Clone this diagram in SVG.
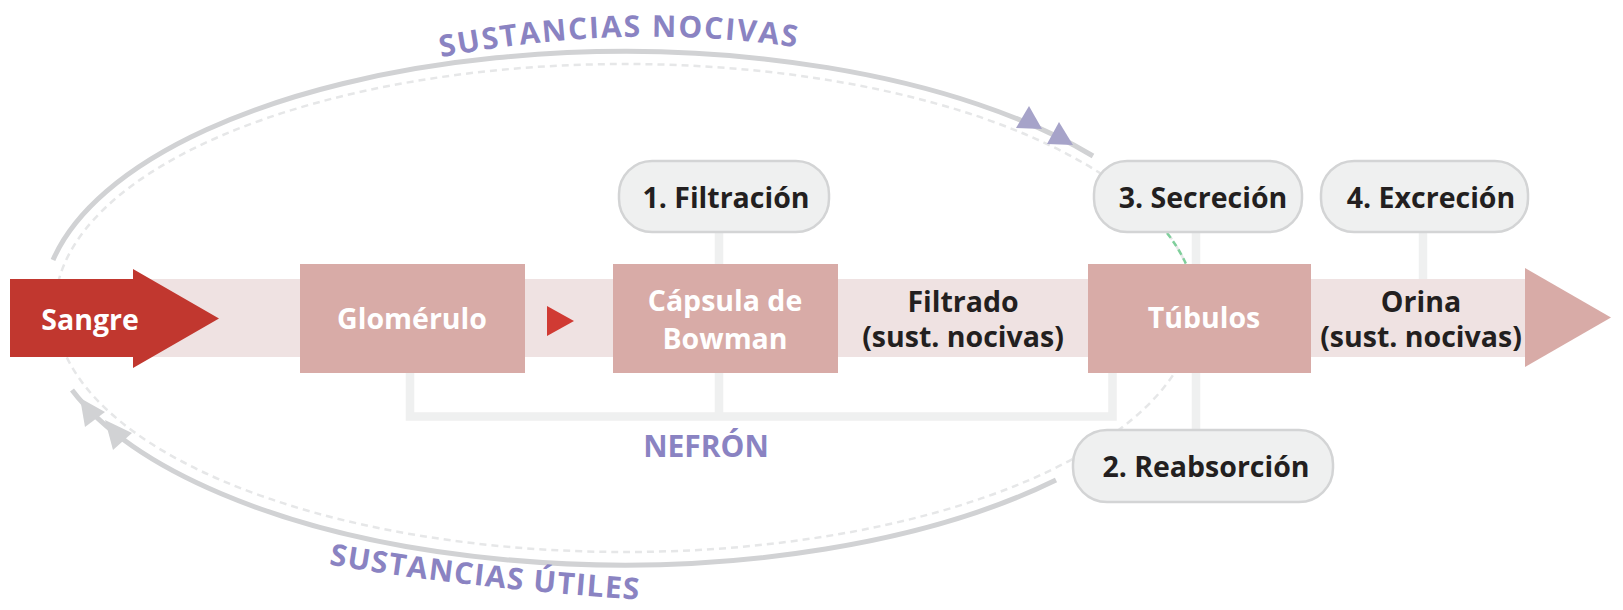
<svg xmlns="http://www.w3.org/2000/svg" width="1623" height="610" viewBox="0 0 1623 610">
<style>
.bg{fill:#ffffff}
.box{fill:#d8aba7}
.lbl{fill:#eff0f0;stroke:#d3d4d5;stroke-width:2.5}
.t{font-family:"Open Sans","Liberation Sans",sans-serif;font-weight:700;font-size:28.5px;text-anchor:middle}
.w{fill:#ffffff}
.k{fill:#231f20}
.p{fill:#8a83c2}
.conn{fill:none;stroke:#eff0f0;stroke-width:8.5}
.arc{fill:none;stroke:#d1d2d4;stroke-width:5}
.dash{fill:none;stroke:#e6e7e8;stroke-width:2.5;stroke-dasharray:7 5}
.green{fill:none;stroke:#7fcf9b;stroke-width:2.5;stroke-dasharray:6 4}
.arcT{font-family:"Open Sans","Liberation Sans",sans-serif;font-weight:700;font-size:30px;fill:#8a83c2}
</style>
<defs>
<path id="tp1" d="M 438,58 Q 620,22 795,47"/>
<path id="tp2" d="M 326,564 Q 470,589 660,601"/>
</defs>
<rect class="bg" x="0" y="0" width="1623" height="610"/>

<g id="connectors">
<ellipse class="dash" cx="625" cy="308" rx="570" ry="244"/>
<path class="green" d="M 1167,233 A 570 244 0 0 1 1186,264"/>
<path class="arc" d="M 53,260 A 582 257 0 0 1 1093,156"/>
<path class="arc" d="M 1056,480 A 582 257 0 0 1 72,390"/>
<polygon fill="#a6a3c9" points="1029,106 1042,129 1016,128"/>
<polygon fill="#a6a3c9" points="1059,122 1073,145 1047,144"/>
<polygon fill="#d1d2d4" points="80,398 105,412 85,427"/>
<polygon fill="#d1d2d4" points="105,420 132,433 113,450"/>
<line class="conn" x1="719" y1="232" x2="719" y2="416"/>
<line class="conn" x1="1196" y1="232" x2="1196" y2="430"/>
<line class="conn" x1="1423" y1="232" x2="1423" y2="279"/>
<path class="conn" d="M 410,373 V 416.5 H 1112.5 V 373"/>
</g>

<g id="band">
<rect x="133" y="279" width="1394" height="78" fill="#efe2e2"/>
<polygon class="box" points="1525,268 1611,317.5 1525,367"/>
<polygon fill="#d03a33" points="547,306 574,321 547,336"/>
</g>

<g id="sangre">
<polygon fill="#c1372f" points="10,279 133,279 133,269 219,318.5 133,368 133,357 10,357"/>
<text class="t w" x="90" y="330">Sangre</text>
</g>

<g id="glomerulo">
<rect class="box" x="300" y="264" width="225" height="109"/>
<text class="t w" x="412" y="329">Glomérulo</text>
</g>

<g id="capsula">
<rect class="box" x="613" y="264" width="225" height="109"/>
<text class="t w" x="725" y="311">Cápsula de</text>
<text class="t w" x="725" y="349">Bowman</text>
</g>

<g id="filtrado">
<text class="t k" x="963" y="312">Filtrado</text>
<text class="t k" x="963" y="347">(sust. nocivas)</text>
</g>

<g id="tubulos">
<rect class="box" x="1088" y="264" width="223" height="109"/>
<text class="t w" x="1204" y="328">Túbulos</text>
</g>

<g id="orina">
<text class="t k" x="1421" y="312">Orina</text>
<text class="t k" x="1421" y="347">(sust. nocivas)</text>
</g>

<g id="filtracion">
<rect class="lbl" x="619" y="161" width="210" height="71" rx="33"/>
<text class="t k" x="726" y="208">1. Filtración</text>
</g>

<g id="secrecion">
<rect class="lbl" x="1094" y="161" width="208" height="71" rx="33"/>
<text class="t k" x="1203" y="208">3. Secreción</text>
</g>

<g id="excrecion">
<rect class="lbl" x="1321" y="161" width="207" height="71" rx="33"/>
<text class="t k" x="1431" y="208">4. Excreción</text>
</g>

<g id="reabsorcion">
<rect class="lbl" x="1073" y="430" width="260" height="72" rx="34"/>
<text class="t k" x="1206" y="477">2. Reabsorción</text>
</g>

<g id="nefron">
<text class="t p" x="706" y="457" style="font-size:30px">NEFRÓN</text>
</g>

<g id="labels">
<text class="arcT" letter-spacing="1.8"><textPath href="#tp1" startOffset="3">SUSTANCIAS NOCIVAS</textPath></text>
<text class="arcT" letter-spacing="1.2"><textPath href="#tp2" startOffset="3">SUSTANCIAS ÚTILES</textPath></text>
</g>
</svg>
